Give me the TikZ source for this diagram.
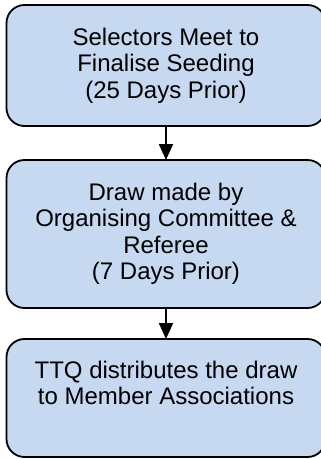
\documentclass[tikz,border=0pt]{standalone}
\usepackage{fontspec}
\setmainfont{Liberation Sans}
\usetikzlibrary{arrows.meta}
\definecolor{boxfill}{RGB}{198,217,241}
\tikzset{
  stepbox/.style={draw=black, fill=boxfill, line width=1.8pt, rounded corners=18pt,
    minimum width=319pt, inner sep=0pt, outer sep=0pt},
  steptext/.style={align=center, inner sep=0pt, font=\fontsize{24}{26.5}\selectfont},
  flowarrow/.style={line width=2pt, -{Triangle[length=16pt,width=14pt]}}
}
\begin{document}
\begin{tikzpicture}[x=1pt,y=1pt]
\useasboundingbox (0,0) rectangle (321,-459);
\node[stepbox, minimum height=121pt] (b1) at (166,-65.5) {};
\node[stepbox, minimum height=148pt] (b2) at (166,-234) {};
\node[stepbox, minimum height=118pt] (b3) at (166,-398) {};
\node[steptext] (t1) at (b1.center) {Selectors Meet to\\Finalise Seeding\\(25 Days Prior)};
\node[steptext] (t2) at (b2.center) {Draw made by\\Organising Committee \&\\Referee\\(7 Days Prior)};
\node[steptext] (t3) at (166,-382.7) {TTQ distributes the draw\\to Member Associations};
\draw[flowarrow] (b1.south) -- (b2.north);
\draw[flowarrow] (b2.south) -- (b3.north);
\end{tikzpicture}
\end{document}
